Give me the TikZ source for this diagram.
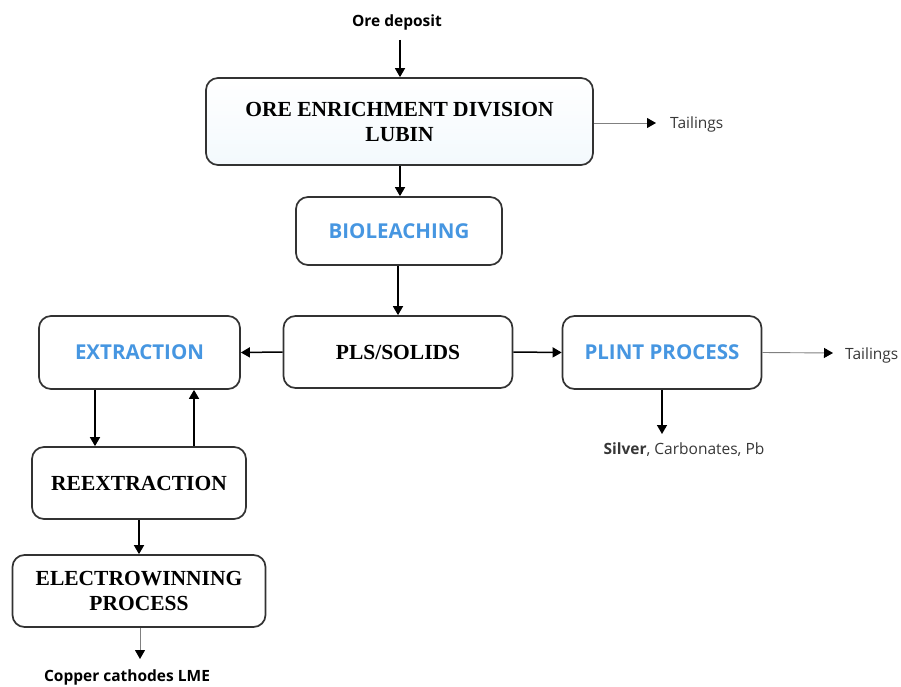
\documentclass[tikz,border=0pt]{standalone}
\usepackage{fontspec}
\setmainfont{Liberation Serif}
\newfontfamily\sansf{Open Sans}
\usetikzlibrary{arrows.meta,calc}
\definecolor{bluet}{RGB}{70,150,225}
\definecolor{boxline}{RGB}{50,50,50}
\definecolor{graytext}{RGB}{55,55,55}
\definecolor{paleblue}{RGB}{243,249,253}
\tikzset{
  proc/.style={draw=boxline, line width=1.7pt, rounded corners=12pt, fill=white, align=center, inner sep=0pt},
  serifb/.style={font=\fontsize{21.5}{25}\selectfont\bfseries},
  bluel/.style={font=\sansf\fontsize{20.5}{24}\selectfont\bfseries, text=bluet},
  arr/.style={line width=1.5pt, draw=black, -{Triangle[length=9pt,width=10pt]}},
  garr/.style={line width=0.9pt, draw=gray, -{Triangle[length=9pt,width=10pt,color=black]}},
  lab/.style={font=\sansf\fontsize{15.5}{18}\selectfont, text=graytext, inner sep=0pt},
  labb/.style={font=\sansf\fontsize{15.5}{18}\selectfont\bfseries, inner sep=0pt}
}
\begin{document}
\begin{tikzpicture}[x=1pt,y=-1pt]
\useasboundingbox (0,0) rectangle (901,687);
\node[proc, serifb, minimum width=387pt, minimum height=87pt, top color=white, bottom color=paleblue] (ore) at (399.5,121.5) {ORE ENRICHMENT DIVISION\\LUBIN};
\node[proc, bluel, minimum width=206pt, minimum height=68pt] (bio) at (399,231) {BIOLEACHING};
\node[proc, serifb, minimum width=229pt, minimum height=72pt] (pls) at (398,352) {PLS/SOLIDS};
\node[proc, bluel, minimum width=201pt, minimum height=73pt] (ext) at (139.5,352.5) {EXTRACTION};
\node[proc, bluel, minimum width=199pt, minimum height=73pt] (plint) at (662,352.5) {PLINT PROCESS};
\node[proc, serifb, minimum width=214pt, minimum height=72pt] (reext) at (139,483) {REEXTRACTION};
\node[proc, serifb, minimum width=253pt, minimum height=72pt] (elec) at (139,591) {ELECTROWINNING\\PROCESS};

\node[labb] (oredep) at (397,22) {Ore deposit};
\node[lab, anchor=west] (tail1) at (670,124) {Tailings};
\node[lab, anchor=west] (tail2) at (845,355) {Tailings};
\node[lab] (silver) at (684,450) {\textbf{Silver}, Carbonates, Pb};
\node[labb, text=black] (copper) at (127,677) {Copper cathodes LME};

\coordinate (oretop) at (400,40);
\coordinate (a1) at (95,0);
\coordinate (a2) at (194,0);
\coordinate (t1end) at (656,123);
\coordinate (t2end) at (833,353);
\coordinate (silverend) at (662,434);
\coordinate (copperend) at (140,659);

\draw[arr] (oretop) -- (oretop |- ore.north);
\draw[garr] (ore.east |- t1end) -- (t1end);
\draw[arr] (ore.south -| oretop) -- (bio.north -| oretop);
\draw[arr] (bio.south -| pls.north) -- (pls.north);
\draw[arr] (pls.west) -- (ext.east);
\draw[arr] (pls.east) -- (plint.west);
\draw[garr] (plint.east) -- (t2end);
\draw[arr] (plint.south) -- (silverend);
\draw[arr] (ext.south -| a1) -- (reext.north -| a1);
\draw[arr] (reext.north -| a2) -- (ext.south -| a2);
\draw[arr] (reext.south -| elec.north) -- (elec.north);
\draw[garr] (elec.south -| copperend) -- (copperend);
\end{tikzpicture}
\end{document}
